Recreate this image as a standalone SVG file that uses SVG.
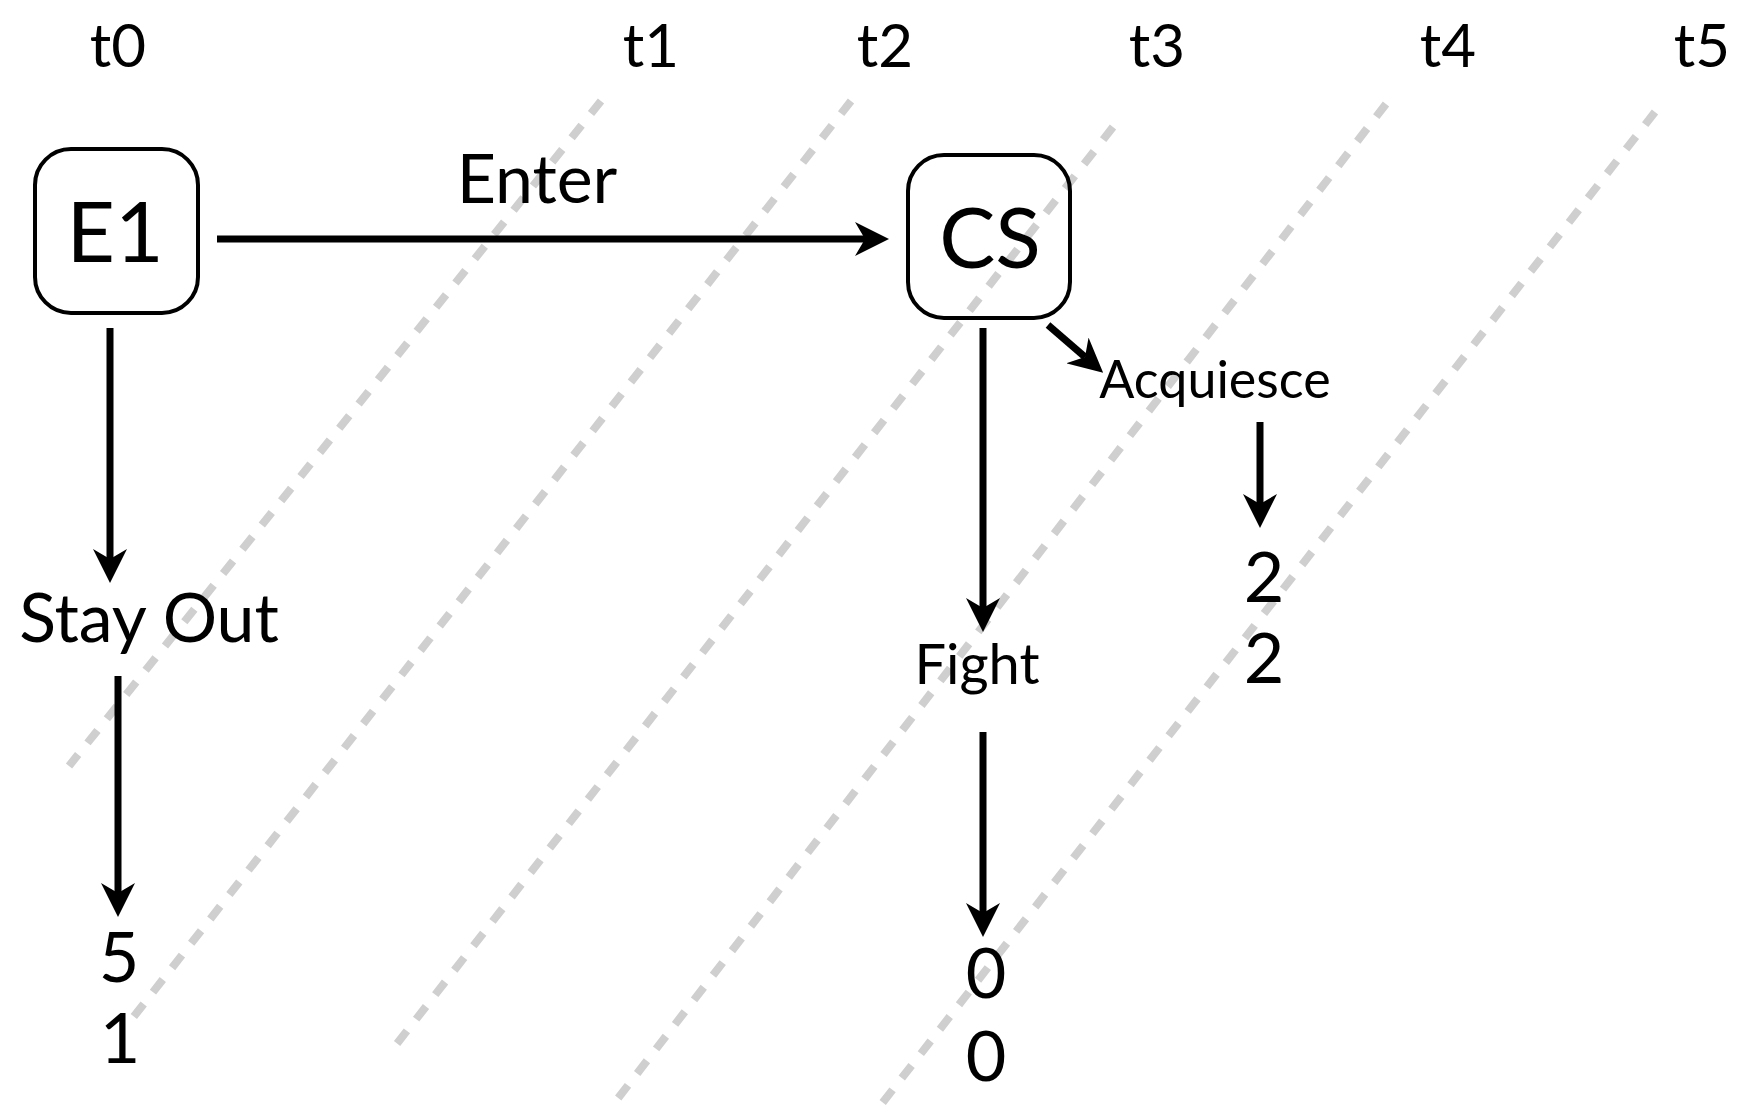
<svg xmlns="http://www.w3.org/2000/svg" width="1746" height="1106" viewBox="0 0 1746 1106">
  <style>
    text { font-family: "Lato", "Open Sans", "Liberation Sans", sans-serif; fill: #000; text-anchor: middle; }
    .time { font-size: 60px; }
    .player { font-size: 84px; }
    .move { font-size: 68px; }
    .small { font-size: 56px; }
    .acq { font-size: 52px; }
    .pay { font-size: 70px; }
    .box { fill: none; stroke: #000; stroke-width: 4; }
    .edge { stroke: #000; stroke-width: 7; fill: none; marker-end: url(#head); }
    .period { stroke: #cfcfcf; stroke-width: 8; stroke-dasharray: 16 15; fill: none; }
  </style>
  <defs>
    <marker id="head" markerUnits="userSpaceOnUse" viewBox="-10 -17 34 34" markerWidth="34" markerHeight="34" refX="0" refY="0" orient="auto">
      <path d="M24,0 L-10,-17 L0,0 L-10,17 Z" fill="#000"/>
    </marker>
  </defs>
  <rect width="1746" height="1106" fill="#fff"/>

  <!-- time period separators -->
  <g id="periods">
    <line class="period" x1="601" y1="101" x2="69" y2="766"/>
    <line class="period" x1="851" y1="101" x2="128" y2="1024"/>
    <line class="period" x1="1113" y1="127" x2="392" y2="1050"/>
    <line class="period" x1="1386" y1="104" x2="612" y2="1106"/>
    <line class="period" x1="1655" y1="112" x2="880" y2="1106"/>
  </g>

  <!-- time labels -->
  <g id="time-labels">
    <text class="time" x="118" y="67">t0</text>
    <text class="time" x="651" y="67">t1</text>
    <text class="time" x="885" y="67">t2</text>
    <text class="time" x="1157" y="67">t3</text>
    <text class="time" x="1448" y="67">t4</text>
    <text class="time" x="1702" y="67">t5</text>
  </g>

  <!-- decision nodes -->
  <g id="node-e1">
    <rect class="box" x="35" y="149" width="163" height="164" rx="36" ry="36"/>
    <text class="player" x="115" y="262">E1</text>
  </g>
  <g id="node-cs">
    <rect class="box" x="908" y="155" width="162" height="163" rx="36" ry="36"/>
    <text class="player" x="990" y="268">CS</text>
  </g>

  <!-- actions -->
  <g id="action-enter"><text class="move" x="537" y="203">Enter</text></g>
  <g id="action-stay-out"><text class="move" x="149" y="642">Stay Out</text></g>
  <g id="action-fight"><text class="small" x="977" y="684">Fight</text></g>
  <g id="action-acquiesce"><text class="acq" x="1215" y="398">Acquiesce</text></g>

  <!-- payoffs -->
  <g id="payoff-stay-out">
    <text class="pay" x="119" y="982">5</text>
    <text class="pay" x="120" y="1063">1</text>
  </g>
  <g id="payoff-fight">
    <text class="pay" x="986" y="998">0</text>
    <text class="pay" x="986" y="1081">0</text>
  </g>
  <g id="payoff-acquiesce">
    <text class="pay" x="1264" y="602">2</text>
    <text class="pay" x="1264" y="683">2</text>
  </g>

  <!-- connectors -->
  <g id="connectors">
    <line class="edge" x1="217" y1="239" x2="865" y2="239"/>
    <line class="edge" x1="110" y1="328" x2="110" y2="559"/>
    <line class="edge" x1="118" y1="676" x2="118" y2="893"/>
    <line class="edge" x1="983" y1="328" x2="983" y2="608"/>
    <line class="edge" x1="1048" y1="325" x2="1085" y2="357"/>
    <line class="edge" x1="1260" y1="422" x2="1260" y2="504"/>
    <line class="edge" x1="983" y1="732" x2="983" y2="913"/>
  </g>
</svg>
